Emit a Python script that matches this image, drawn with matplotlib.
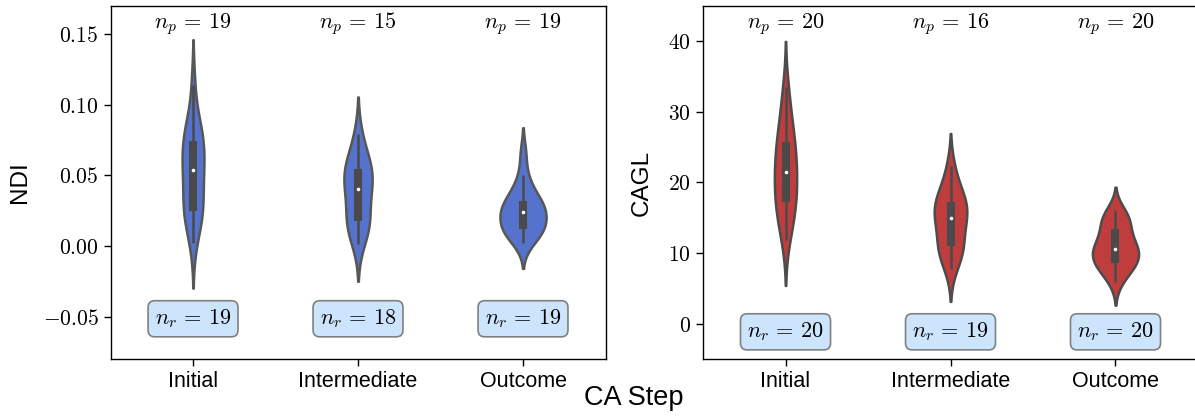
import numpy as np
import pandas as pd
import matplotlib
matplotlib.use("Agg")
import matplotlib.pyplot as plt
import matplotlib.cbook as cbook
import seaborn as sns
from matplotlib.ticker import FuncFormatter, FixedLocator

# ---------------- data ----------------
steps = ["Initial", "Intermediate", "Outcome"]

ndi_initial = [0.0023, 0.019, 0.022, 0.024, 0.0245, 0.0255, 0.036, 0.046, 0.050,
               0.0535, 0.056, 0.060, 0.068, 0.074, 0.0754, 0.078, 0.082, 0.088, 0.114]
ndi_intermediate = [0.0012, 0.012, 0.015, 0.017, 0.019, 0.030, 0.037, 0.0407,
                    0.045, 0.048, 0.054, 0.0558, 0.060, 0.065, 0.0794]
ndi_outcome = [0.002, 0.006, 0.009, 0.011, 0.012, 0.0128, 0.016, 0.019, 0.021,
               0.0238, 0.025, 0.027, 0.029, 0.031, 0.033, 0.037, 0.042, 0.050, 0.066]

cagl_initial = [11.9, 13.5, 15.0, 16.0, 17.0, 17.3, 18.2, 19.2, 20.3, 21.2,
                21.8, 22.6, 23.5, 24.5, 25.6, 26.2, 27.5, 29.0, 31.0, 33.5]
cagl_intermediate = [7.8, 9.6, 10.3, 10.8, 11.0, 12.8, 14.0, 14.7,
                     15.3, 15.9, 16.5, 17.2, 17.6, 18.6, 19.8, 22.3]
cagl_outcome = [5.85, 7.0, 7.8, 8.3, 8.5, 8.7, 9.3, 9.8, 10.2, 10.45,
                10.75, 11.1, 11.6, 12.2, 13.2, 13.8, 14.3, 15.0, 15.5, 16.1]

np_ndi = [19, 15, 19]
nr_ndi = [19, 18, 19]
np_cagl = [20, 16, 20]
nr_cagl = [20, 19, 20]

ndi_ticks = [-0.05, 0.00, 0.05, 0.10, 0.15]
cagl_ticks = [0, 10, 20, 30, 40]

# ---------------- style ----------------
plt.rcParams['font.family'] = ['Liberation Sans', 'DejaVu Sans']
plt.rcParams['mathtext.fontset'] = 'cm'

fig = plt.figure(figsize=(11.95, 4.16), dpi=100)
# the right panel runs slightly past the right edge of the canvas (as in the reference)
ax1 = fig.add_axes([0.0925, 0.137, 0.4142, 0.8486])
ax2 = fig.add_axes([0.5883, 0.137, 0.4142, 0.8486])

TICK_FS = 15.5
LAB_FS = 17.5
XLAB_FS = 19.5
ANN_FS = 16
INNER = '#4a4a4a'


def draw(ax, groups, color, ylim, ticks, fmt, npv, nrv, nr_y, ylabel):
    df = pd.DataFrame({
        "step": np.repeat(steps, [len(g) for g in groups]),
        "val": np.concatenate([np.asarray(g, float) for g in groups]),
    })
    sns.violinplot(data=df, x="step", y="val", order=steps, color=color,
                   linewidth=1.8, width=0.28, inner=None, ax=ax)
    # inner box (quartiles, whiskers, median) computed from the data
    for i, g in enumerate(groups):
        st = cbook.boxplot_stats(np.asarray(g, float))[0]
        ax.plot([i, i], [st['whislo'], st['whishi']], color=INNER, lw=1.8,
                solid_capstyle='butt', zorder=3)
        ax.plot([i, i], [st['q1'], st['q3']], color=INNER, lw=5.8,
                solid_capstyle='butt', zorder=3)
        ax.plot([i], [st['med']], 'o', color='white', ms=2.6, mew=0, zorder=4)
    ax.set_ylim(*ylim)
    ax.set_xlim(-0.5, 2.5)
    ax.yaxis.set_major_locator(FixedLocator(ticks))
    ax.yaxis.set_major_formatter(FuncFormatter(fmt))
    ax.tick_params(axis='both', labelsize=TICK_FS, length=5, width=1)
    ax.set_xlabel("")
    ax.set_ylabel(ylabel, fontsize=LAB_FS)
    for s in ax.spines.values():
        s.set_linewidth(1.0)
        s.set_color("black")
    trans = ax.get_xaxis_transform()
    for i, (a, b) in enumerate(zip(npv, nrv)):
        ax.text(i, 0.95, rf"$n_p \,=\, {a}$", transform=trans, ha='center',
                va='center', fontsize=ANN_FS)
        ax.text(i, nr_y, rf"$n_r \,=\, {b}$", ha='center', va='center',
                fontsize=ANN_FS,
                bbox=dict(boxstyle='round,pad=0.3', facecolor='#cce5fd',
                          edgecolor='#808080', linewidth=1.2))


draw(ax1, [ndi_initial, ndi_intermediate, ndi_outcome], 'royalblue',
     (-0.08, 0.17), ndi_ticks, lambda v, p: f"${v:.2f}$",
     np_ndi, nr_ndi, -0.0515, "NDI")
draw(ax2, [cagl_initial, cagl_intermediate, cagl_outcome], 'tab:red',
     (-5, 45), cagl_ticks, lambda v, p: f"${v:.0f}$",
     np_cagl, nr_cagl, -1.15, "CAGL")

ax1.yaxis.set_label_coords(-0.160, 0.5)
ax2.yaxis.set_label_coords(-0.101, 0.5)

fig.text(0.5305, 0.043, "CA Step", ha='center', va='center', fontsize=XLAB_FS)

fig.savefig("out.png", dpi=100)
